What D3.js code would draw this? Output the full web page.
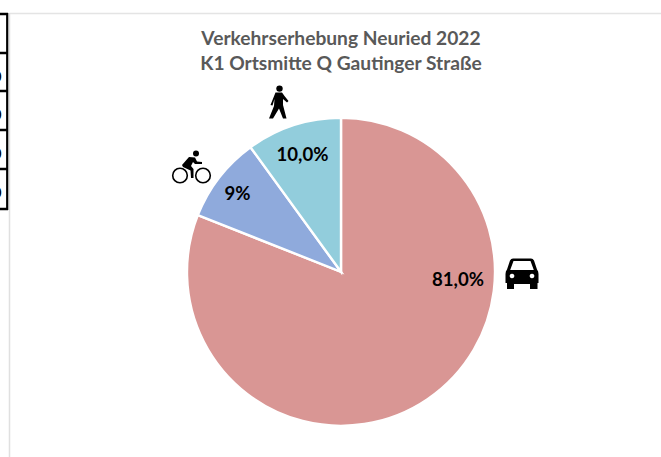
<!DOCTYPE html>
<html><head><meta charset="utf-8">
<script src="https://cdn.jsdelivr.net/npm/d3@7"></script>
<style>html,body{margin:0;padding:0;background:#fff}svg{display:block}text{font-family:Lato,"Open Sans",sans-serif}</style>
</head><body><div id="c"></div>
<script>
const categories=["Auto","Fahrrad","Fußgänger"];
const values=[81,9,10];
const labels=["81,0%","9%","10,0%"];
const colors=["#d99694","#8faadc","#92cddc"];
const titleLines=["Verkehrserhebung Neuried 2022","K1 Ortsmitte Q Gautinger Straße"];
const tableRows=[14,53,91,130,169,209];
const tableCells=["0","0","0","0"]; // cropped in the reference: only the right edge of each digit shows

const W=661,H=457,cx=341,cy=271.8,R=154;
const svg=d3.select("#c").append("svg").attr("width",W).attr("height",H);

// frame of chart area
svg.append("line").attr("x1",9.5).attr("x2",W).attr("y1",13.5).attr("y2",13.5).attr("stroke","#e4e4e4").attr("stroke-width",1.5);
svg.append("line").attr("x1",9.5).attr("x2",9.5).attr("y1",13).attr("y2",H).attr("stroke","#e0e0e0").attr("stroke-width",1.5);

// cropped table at left
const t=svg.append("g");
t.selectAll("line.r").data(tableRows).join("line").attr("class","r")
  .attr("x1",0).attr("x2",8).attr("y1",d=>d).attr("y2",d=>d).attr("stroke","#000").attr("stroke-width",2.5);
t.append("line").attr("x1",7.2).attr("x2",7.2).attr("y1",13).attr("y2",210).attr("stroke","#000").attr("stroke-width",2.2);
t.selectAll("text").data(tableCells).join("text")
  .attr("x",1.6).attr("y",(d,i)=>tableRows[i+1]+28.5).attr("text-anchor","end")
  .attr("font-size",16).attr("font-weight",700).attr("fill","#000").text(d=>d);

// title
svg.append("g").selectAll("text").data(titleLines).join("text")
  .attr("x",341).attr("y",(d,i)=>45+i*25).attr("text-anchor","middle")
  .attr("font-size",19.2).attr("font-weight",700).attr("fill","#595959").text(d=>d);

// pie
const pie=d3.pie().sort(null).value(d=>d)(values);
const arc=d3.arc().innerRadius(0).outerRadius(R);
const g=svg.append("g").attr("transform",`translate(${cx},${cy})`);
g.selectAll("path").data(pie).join("path").attr("d",arc)
  .attr("fill",(d,i)=>colors[i]).attr("stroke","#fff").attr("stroke-width",2.4);

// labels
const labelRadius=[0,.85*R,.81*R];
g.selectAll("text").data(pie).join("text")
  .attr("x",(d,i)=>i==0?117:d3.arc().innerRadius(labelRadius[i]).outerRadius(labelRadius[i]).centroid(d)[0])
  .attr("y",(d,i)=>i==0?14:d3.arc().innerRadius(labelRadius[i]).outerRadius(labelRadius[i]).centroid(d)[1]+8)
  .attr("text-anchor","middle").attr("font-size",18.6).attr("font-weight",700).attr("fill","#000")
  .text((d,i)=>labels[i]);

// icons
const icons=svg.append("g").attr("fill","#000");
// car
icons.append("path").attr("transform","translate(505,258)").attr("fill-rule","evenodd")
 .attr("d","M8 .5 H26 Q28 .5 29 2.5 L32 11.5 Q33.5 13 33.5 16 V25 H32.5 V31 H25 V26 H9 V31 H2 V25 H.5 V16 Q.5 13 2 11.5 L5 2.5 Q6 .5 8 .5 Z M8.5 3 L5.2 12 H28.8 L25.5 3 Z M7 15.7 a2.3 2.3 0 1 0 .01 0 Z M27 15.7 a2.3 2.3 0 1 0 .01 0 Z");
// pedestrian
const ped=icons.append("g").attr("transform","translate(268,85)");
ped.append("circle").attr("cx",11.5).attr("cy",3.6).attr("r",3.2);
ped.append("path").attr("d","M7.5 7.5 L14 7.5 L16.5 11 L20.5 16 L19 17.5 L15 14 L15 20 L18.5 33.5 L15 33.5 L11 23.5 L5 33.5 L1 33.5 L6 21 L6.5 14 L4.5 20.5 L2.5 20 Z");
// cyclist
const b=icons.append("g").attr("transform","translate(171,149)");
b.append("circle").attr("cx",25).attr("cy",4.6).attr("r",3);
b.append("path").attr("d","M11 16 L18 8 L24 8.5 L26 12.5 L31 13 L31 15 L24 15 L22 13 L20 17 L22.5 20 L22.5 29 L20 29 L19.5 21.5 L12 18 Z");
b.selectAll("circle.w").data([9,32]).join("circle").attr("class","w").attr("cx",d=>d).attr("cy",26.5).attr("r",7.3)
  .attr("fill","none").attr("stroke","#000").attr("stroke-width",1.6);
</script></body></html>
